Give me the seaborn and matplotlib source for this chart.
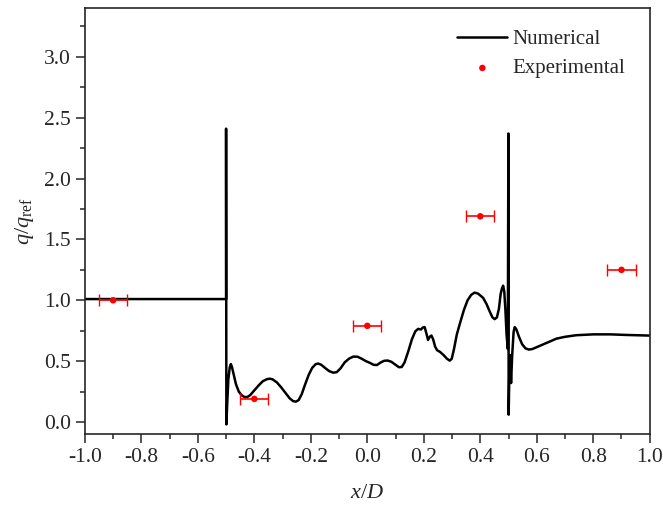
import numpy as np
import pandas as pd
import seaborn as sns
import matplotlib.pyplot as plt
from matplotlib.ticker import MultipleLocator

# Numerical curve
num_x = [-1.0, -0.5, -0.5, -0.499, -0.496, -0.492, -0.487, -0.483, -0.479, -0.472,
         -0.465, -0.455, -0.445, -0.435, -0.425, -0.415, -0.40, -0.385, -0.37, -0.355,
         -0.345, -0.335, -0.32, -0.305, -0.29, -0.275, -0.263, -0.253, -0.243, -0.232,
         -0.22, -0.207, -0.195, -0.183, -0.174, -0.163, -0.15, -0.135, -0.12, -0.108,
         -0.095, -0.08, -0.065, -0.05, -0.035, -0.02, -0.005, 0.01, 0.022, 0.034,
         0.048, 0.06, 0.072, 0.085, 0.1, 0.112, 0.122, 0.132, 0.145, 0.158,
         0.17, 0.18, 0.19, 0.196, 0.203, 0.209, 0.215, 0.221, 0.227, 0.233,
         0.24, 0.247, 0.258, 0.27, 0.282, 0.292, 0.299, 0.307, 0.317, 0.328,
         0.342, 0.355, 0.368, 0.38, 0.392, 0.41, 0.422, 0.433, 0.443, 0.451,
         0.459, 0.466, 0.472, 0.477, 0.481, 0.485, 0.489, 0.493, 0.4975, 0.4995,
         0.5005, 0.503, 0.506, 0.509, 0.513, 0.518, 0.522, 0.528, 0.537, 0.548,
         0.56, 0.572, 0.585, 0.6, 0.62, 0.645, 0.67, 0.7, 0.74, 0.8,
         0.86, 0.92, 1.0]
num_y = [1.01, 1.01, 2.41, -0.02, 0.15, 0.35, 0.45, 0.476, 0.45, 0.38,
         0.31, 0.25, 0.22, 0.205, 0.205, 0.22, 0.26, 0.30, 0.335, 0.352,
         0.356, 0.35, 0.325, 0.285, 0.24, 0.195, 0.172, 0.167, 0.18, 0.23,
         0.31, 0.39, 0.445, 0.475, 0.48, 0.47, 0.445, 0.418, 0.405, 0.41,
         0.44, 0.49, 0.52, 0.537, 0.537, 0.52, 0.5, 0.485, 0.47, 0.468,
         0.49, 0.503, 0.505, 0.495, 0.47, 0.45, 0.452, 0.49, 0.58, 0.68,
         0.745, 0.765, 0.76, 0.775, 0.78, 0.73, 0.674, 0.70, 0.71, 0.68,
         0.62, 0.59, 0.575, 0.55, 0.52, 0.504, 0.52, 0.60, 0.72, 0.81,
         0.92, 1.00, 1.045, 1.063, 1.055, 1.02, 0.97, 0.91, 0.86, 0.845,
         0.86, 0.93, 1.05, 1.10, 1.12, 1.07, 0.92, 0.72, 0.60, 2.37,
         0.06, 0.42, 0.55, 0.32, 0.55, 0.74, 0.78, 0.76, 0.70, 0.64,
         0.605, 0.595, 0.60, 0.615, 0.635, 0.66, 0.685, 0.70, 0.713, 0.72,
         0.72, 0.715, 0.71]

# Experimental points
exp_x = [-0.9, -0.4, 0.0, 0.4, 0.9]
exp_y = [1.0, 0.19, 0.79, 1.69, 1.25]
exp_xerr = [0.05, 0.05, 0.05, 0.05, 0.05]

xticks = [-1.0, -0.8, -0.6, -0.4, -0.2, 0.0, 0.2, 0.4, 0.6, 0.8, 1.0]
yticks = [0.0, 0.5, 1.0, 1.5, 2.0, 2.5, 3.0]

num = pd.DataFrame({"x": num_x, "y": num_y})
exp = pd.DataFrame({"x": exp_x, "y": exp_y})

sns.set_style("ticks")
plt.rcParams["font.family"] = ["Liberation Serif", "DejaVu Serif"]
plt.rcParams["mathtext.fontset"] = "custom"
plt.rcParams["mathtext.rm"] = "Liberation Serif"
plt.rcParams["mathtext.it"] = "Liberation Serif:italic"

fig = plt.figure(figsize=(6.63, 5.09), dpi=100)
ax = fig.add_axes([0.128, 0.147, 0.852, 0.837])

sns.lineplot(data=num, x="x", y="y", sort=False, estimator=None, color="black",
             linewidth=1.8, label="Numerical", ax=ax)
ax.errorbar(exp_x, exp_y, xerr=exp_xerr, fmt="none", ecolor="red",
            elinewidth=1.2, capsize=4, capthick=1.0)
sns.scatterplot(data=exp, x="x", y="y", color="red", s=22, edgecolor="none",
                label="Experimental", ax=ax, zorder=5)

ax.set_xlim(-1.0, 1.0)
ax.set_ylim(-0.1, 3.4)
ax.set_xticks(xticks)
ax.set_xticklabels([f"{v:.1f}" for v in xticks])
ax.set_yticks(yticks)
ax.set_yticklabels([f"{v:.1f}" for v in yticks])
ax.xaxis.set_minor_locator(MultipleLocator(0.1))
ax.yaxis.set_minor_locator(MultipleLocator(0.25))
ax.tick_params(which="major", direction="out", length=6.5, width=1.1, labelsize=15.5)
ax.tick_params(which="minor", direction="out", length=3.5, width=1.1)
for s in ax.spines.values():
    s.set_linewidth(1.2)

ax.set_xlabel(r"$x/D$", fontsize=16, labelpad=12)
ax.set_ylabel(r"$q/q_{\mathrm{ref}}$", fontsize=16, labelpad=6)

leg = ax.legend(loc="upper right", bbox_to_anchor=(0.99, 0.993), frameon=False,
                fontsize=15, handlelength=2.4, handletextpad=0.25, labelspacing=0.45)

fig.savefig("out.png", dpi=100)
